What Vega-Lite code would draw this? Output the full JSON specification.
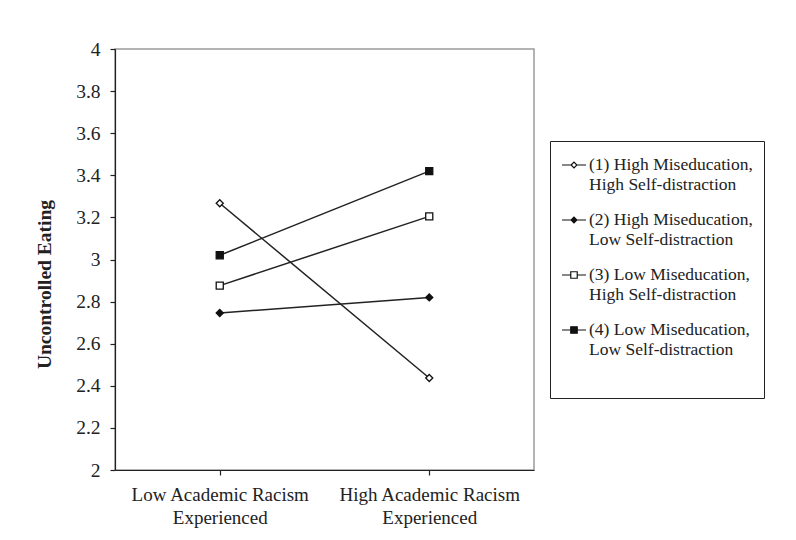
{
  "$schema": "https://vega.github.io/schema/vega-lite/v6.json",
  "autosize": {"type": "none"},
  "padding": {"left": 115, "top": 49, "right": 262, "bottom": 70},
  "width": 419,
  "height": 421,
  "background": "white",
  "config": {
    "font": "Liberation Serif",
    "view": {"stroke": "#9a9a9a", "strokeWidth": 1.5},
    "axis": {
      "grid": false,
      "domainColor": "#222",
      "domainWidth": 1.2,
      "tickColor": "#222",
      "tickWidth": 1.2,
      "tickSize": 5,
      "labelColor": "#222",
      "labelFont": "Liberation Serif",
      "labelFontSize": 19,
      "labelLimit": 400,
      "titleFont": "Liberation Serif",
      "titleColor": "#222"
    }
  },
  "data": {
    "values": [
      {"racism": "Low Academic Racism|Experienced", "series": "(1) High Miseducation,|High Self-distraction", "miseducation": "High", "distraction": "High", "eating": 3.267},
      {"racism": "High Academic Racism|Experienced", "series": "(1) High Miseducation,|High Self-distraction", "miseducation": "High", "distraction": "High", "eating": 2.437},
      {"racism": "Low Academic Racism|Experienced", "series": "(2) High Miseducation,|Low Self-distraction", "miseducation": "High", "distraction": "Low", "eating": 2.746},
      {"racism": "High Academic Racism|Experienced", "series": "(2) High Miseducation,|Low Self-distraction", "miseducation": "High", "distraction": "Low", "eating": 2.82},
      {"racism": "Low Academic Racism|Experienced", "series": "(3) Low Miseducation,|High Self-distraction", "miseducation": "Low", "distraction": "High", "eating": 2.876},
      {"racism": "High Academic Racism|Experienced", "series": "(3) Low Miseducation,|High Self-distraction", "miseducation": "Low", "distraction": "High", "eating": 3.205},
      {"racism": "Low Academic Racism|Experienced", "series": "(4) Low Miseducation,|Low Self-distraction", "miseducation": "Low", "distraction": "Low", "eating": 3.02},
      {"racism": "High Academic Racism|Experienced", "series": "(4) Low Miseducation,|Low Self-distraction", "miseducation": "Low", "distraction": "Low", "eating": 3.42}
    ]
  },
  "encoding": {
    "x": {
      "field": "racism",
      "type": "nominal",
      "sort": ["Low Academic Racism|Experienced", "High Academic Racism|Experienced"],
      "scale": {"paddingInner": 0, "paddingOuter": 0},
      "axis": {
        "title": null,
        "labelAngle": 0,
        "bandPosition": 0,
        "labelExpr": "split(datum.label, '|')",
        "labelLineHeight": 23,
        "labelPadding": 10,
        "labelBaseline": "top"
      }
    },
    "y": {
      "field": "eating",
      "type": "quantitative",
      "scale": {"domain": [2, 4], "nice": false, "zero": false},
      "axis": {
        "title": "Uncontrolled Eating",
        "titleFontSize": 19.5,
        "titleFontWeight": "bold",
        "titlePadding": 21,
        "titleY": 235,
        "values": [2, 2.2, 2.4, 2.6, 2.8, 3, 3.2, 3.4, 3.6, 3.8, 4],
        "format": "~g",
        "labelFontSize": 19.5,
        "labelPadding": 10
      }
    }
  },
  "layer": [
    {
      "mark": {"type": "line", "color": "#222", "strokeWidth": 1.5},
      "encoding": {"detail": {"field": "series", "type": "nominal"}}
    },
    {
      "mark": {"type": "point", "filled": true, "strokeWidth": 1.3, "opacity": 1, "size": 50},
      "encoding": {
        "shape": {
          "field": "miseducation",
          "type": "nominal",
          "scale": {"domain": ["High", "Low"], "range": ["diamond", "square"]},
          "legend": null
        },
        "fill": {
          "field": "distraction",
          "type": "nominal",
          "scale": {"domain": ["High", "Low"], "range": ["white", "#111"]},
          "legend": null
        },
        "stroke": {
          "field": "series",
          "type": "nominal",
          "scale": {"range": ["#111", "#111", "#111", "#111"]},
          "legend": {
            "title": " ",
            "titleOrient": "bottom",
            "titleFontSize": 18,
            "titlePadding": 11,
            "orient": "none",
            "legendX": 435,
            "legendY": 92,
            "strokeColor": "#222",
            "padding": 11,
            "symbolSize": 576,
            "symbolStrokeWidth": 1.2,
            "symbolOpacity": 1,
            "symbolType": {"expr": "indexof(datum.value, 'High Mis') >= 0 ? 'M-1,0L-0.24,0M0.24,0L1,0M-0.24,0L0,-0.24L0.24,0L0,0.24Z' : 'M-1,0L-0.27,0M0.27,0L1,0M-0.27,-0.27L0.27,-0.27L0.27,0.27L-0.27,0.27Z'"},
            "symbolFillColor": {"expr": "indexof(datum.value, ',|High') >= 0 ? 'white' : '#111'"},
            "labelOffset": 2,
            "labelFont": "Liberation Serif",
            "labelFontSize": 17.5,
            "labelColor": "#222",
            "labelLimit": 400,
            "rowPadding": 14,
            "labelExpr": "split(datum.label, '|')",
            "encode": {
              "labels": {
                "lineHeight": {"value": 20},
                "dy": {"value": 10}
              }
            }
          }
        }
      }
    }
  ]
}
